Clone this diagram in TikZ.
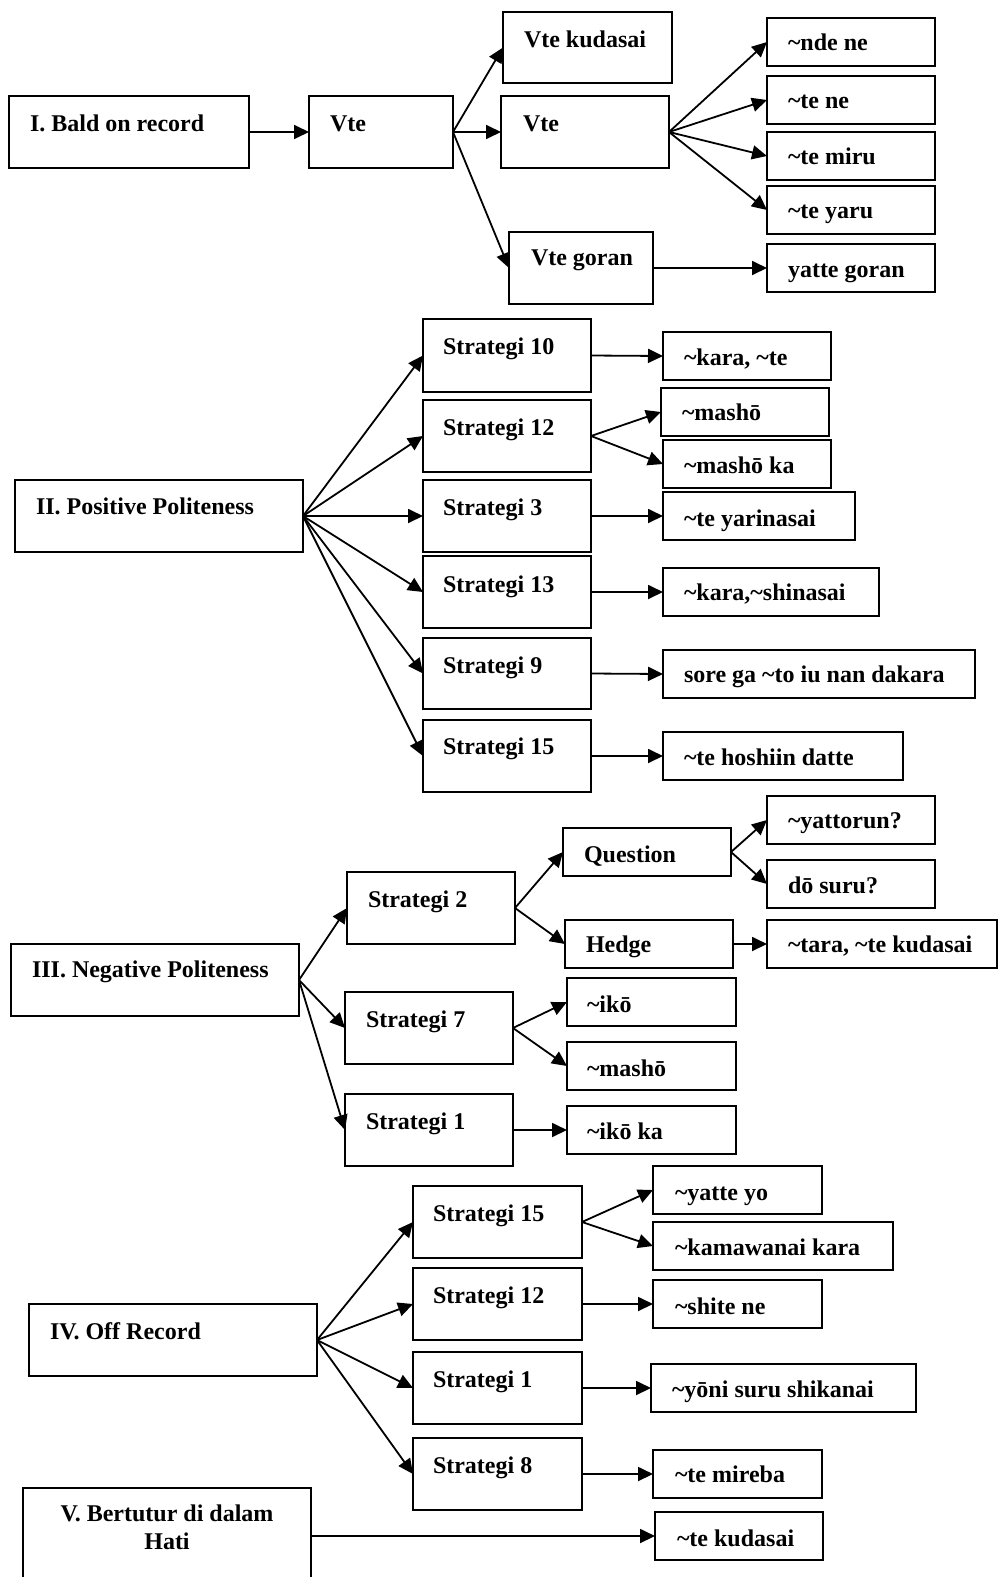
\documentclass[tikz,border=0pt]{standalone}
\usepackage{fontspec}
\setmainfont{Liberation Serif}
\usetikzlibrary{arrows.meta}
\newcommand\tild{\textasciitilde}
\tikzset{
  box/.style={draw, rectangle, line width=2pt, inner sep=0pt, outer sep=0pt},
  txt/.style={anchor=base west, inner sep=0pt, outer sep=0pt, font=\fontsize{24}{28}\selectfont\bfseries},
  arr/.style={line width=1.8pt, -{Triangle[length=15pt,width=14pt]}}
}
\newcommand\mkbox[8]{%
  \pgfmathsetmacro\bw{#4-#2}\pgfmathsetmacro\bh{#5-#3}%
  \node[box, minimum width=\bw pt, minimum height=\bh pt] (#1) at ({(#2+#4)/2},{(#3+#5)/2}) {};
  \node[txt] (#1-t) at (#6,#7) {#8};
}
\begin{document}
\begin{tikzpicture}[x=1pt,y=-1pt]
\useasboundingbox (0,0) rectangle (998,1577);
\clip (0,0) rectangle (998,1577);
% I
\mkbox{bald}{9}{96}{249}{168}{30}{131}{I. Bald on record}
\mkbox{vte}{309}{96}{453}{168}{330}{131}{Vte}
\mkbox{vkud}{503}{12}{672}{83}{524}{47}{Vte kudasai}
\mkbox{vte2}{501}{96}{669}{168}{523}{131}{Vte}
\mkbox{vgor}{509}{232}{653}{304}{531}{265}{Vte goran}
\mkbox{nde}{767}{18}{935}{66}{788}{50}{\tild nde ne}
\mkbox{tene}{767}{76}{935}{124}{788}{108}{\tild te ne}
\mkbox{temiru}{767}{132}{935}{180}{788}{164}{\tild te miru}
\mkbox{teyaru}{767}{186}{935}{234}{788}{218}{\tild te yaru}
\mkbox{yatgor}{767}{244}{935}{292}{788}{277}{yatte goran}
% II
\mkbox{pos}{15}{480}{303}{552}{36}{514}{II. Positive Politeness}
\mkbox{ps10}{423}{319}{591}{392}{443}{354}{Strategi 10}
\mkbox{ps12}{423}{400}{591}{472}{443}{435}{Strategi 12}
\mkbox{ps3}{423}{480}{591}{552}{443}{515}{Strategi 3}
\mkbox{ps13}{423}{556}{591}{628}{443}{592}{Strategi 13}
\mkbox{ps9}{423}{638}{591}{709}{443}{673}{Strategi 9}
\mkbox{ps15}{423}{720}{591}{792}{443}{754}{Strategi 15}
\mkbox{karate}{663}{332}{831}{380}{684}{365}{\tild kara, \tild te}
\mkbox{masho}{661}{388}{829}{436}{682}{420}{\tild mashō}
\mkbox{mashoka}{663}{440}{831}{488}{684}{473}{\tild mashō ka}
\mkbox{yarina}{663}{492}{855}{540}{684}{526}{\tild te yarinasai}
\mkbox{shina}{663}{568}{879}{616}{684}{600}{\tild kara,\tild shinasai}
\mkbox{sore}{663}{650}{975}{698}{684}{682}{sore ga \tild to iu nan dakara}
\mkbox{hoshi}{663}{732}{903}{780}{684}{765}{\tild te hoshiin datte}
% III
\mkbox{neg}{11}{944}{299}{1016}{32}{977}{III. Negative Politeness}
\mkbox{ns2}{347}{872}{515}{944}{368}{907}{Strategi 2}
\mkbox{ns7}{345}{992}{513}{1064}{366}{1027}{Strategi 7}
\mkbox{ns1}{345}{1094}{513}{1166}{366}{1129}{Strategi 1}
\mkbox{quest}{563}{828}{731}{876}{584}{862}{Question}
\mkbox{hedge}{565}{920}{733}{968}{586}{952}{Hedge}
\mkbox{yattor}{767}{796}{935}{844}{788}{828}{\tild yattorun?}
\mkbox{dosuru}{767}{860}{935}{908}{788}{893}{dō suru?}
\mkbox{tara}{767}{920}{997}{968}{788}{952}{\tild tara, \tild te kudasai}
\mkbox{iko}{567}{978}{736}{1026}{587}{1012}{\tild ikō}
\mkbox{masho2}{567}{1042}{736}{1090}{587}{1076}{\tild mashō}
\mkbox{ikoka}{567}{1106}{736}{1154}{587}{1139}{\tild ikō ka}
% IV
\mkbox{off}{29}{1304}{317}{1376}{50}{1339}{IV. Off Record}
\mkbox{os15}{413}{1186}{582}{1258}{433}{1221}{Strategi 15}
\mkbox{os12}{413}{1268}{582}{1340}{433}{1303}{Strategi 12}
\mkbox{os1}{413}{1352}{582}{1424}{433}{1387}{Strategi 1}
\mkbox{os8}{413}{1438}{582}{1510}{433}{1473}{Strategi 8}
\mkbox{yatteyo}{653}{1166}{822}{1214}{675}{1200}{\tild yatte yo}
\mkbox{kamawa}{653}{1222}{893}{1270}{675}{1255}{\tild kamawanai kara}
\mkbox{shite}{653}{1280}{822}{1328}{675}{1314}{\tild shite ne}
\mkbox{yoni}{651}{1364}{916}{1412}{672}{1397}{\tild yōni suru shikanai}
\mkbox{mireba}{653}{1450}{822}{1498}{675}{1482}{\tild te mireba}
\mkbox{kudasai}{655}{1512}{823}{1560}{677}{1546}{\tild te kudasai}
% V
\node[box, minimum width=288pt, minimum height=96pt] (bert) at (167,1536) {};
\node[txt, anchor=north, align=center] (bert-t) at (167,1505) {V. Bertutur di dalam\\Hati};
% arrows I
\draw[arr] (bald.east) -- (vte.west);
\draw[arr] (vte.east) -- (vkud.west);
\draw[arr] (vte.east) -- (vte2.west);
\draw[arr] (vte.east) -- (vgor.west);
\foreach \t in {nde,tene,temiru,teyaru} \draw[arr] (vte2.east) -- (\t.west);
\draw[arr] (vgor.east) -- (yatgor.west);
% arrows II
\foreach \t in {ps10,ps12,ps3,ps13,ps9,ps15} \draw[arr] (pos.east) -- (\t.west);
\draw[arr] (ps10.east) -- (karate.west);
\draw[arr] (ps12.east) -- (masho.west);
\draw[arr] (ps12.east) -- (mashoka.west);
\draw[arr] (ps3.east) -- (yarina.west);
\draw[arr] (ps13.east) -- (shina.west);
\draw[arr] (ps9.east) -- (sore.west);
\draw[arr] (ps15.east) -- (hoshi.west);
% arrows III
\foreach \t in {ns2,ns7,ns1} \draw[arr] (neg.east) -- (\t.west);
\draw[arr] (ns2.east) -- (quest.west);
\draw[arr] (ns2.east) -- (hedge.west);
\draw[arr] (quest.east) -- (yattor.west);
\draw[arr] (quest.east) -- (dosuru.west);
\draw[arr] (hedge.east) -- (tara.west);
\draw[arr] (ns7.east) -- (iko.west);
\draw[arr] (ns7.east) -- (masho2.west);
\draw[arr] (ns1.east) -- (ikoka.west);
% arrows IV
\foreach \t in {os15,os12,os1,os8} \draw[arr] (off.east) -- (\t.west);
\draw[arr] (os15.east) -- (yatteyo.west);
\draw[arr] (os15.east) -- (kamawa.west);
\draw[arr] (os12.east) -- (shite.west);
\draw[arr] (os1.east) -- (yoni.west);
\draw[arr] (os8.east) -- (mireba.west);
% arrow V
\draw[arr] (bert.east) -- (kudasai.west);
\end{tikzpicture}
\end{document}
